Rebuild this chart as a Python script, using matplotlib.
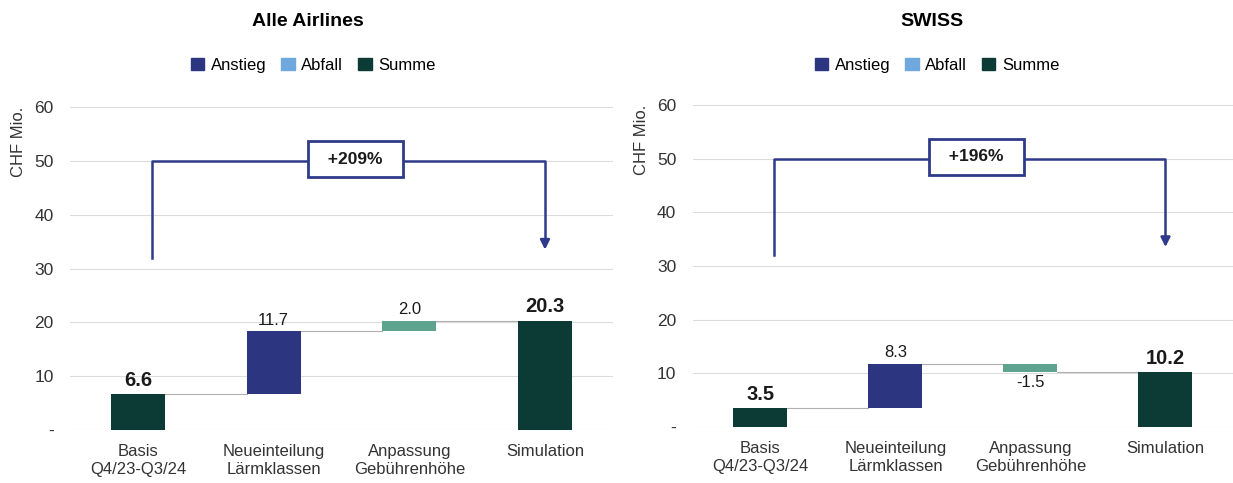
import matplotlib.pyplot as plt
from matplotlib.patches import Patch

plt.rcParams['font.family'] = ['Liberation Sans', 'DejaVu Sans']

# Data
categories = ['Basis\nQ4/23-Q3/24', 'Neueinteilung\nLärmklassen', 'Anpassung\nGebührenhöhe', 'Simulation']
titles = ['Alle Airlines', 'SWISS']
steps_all = [6.6, 11.7, 2.0, 20.3]
steps_swiss = [3.5, 8.3, -1.5, 10.2]
growth_labels = ['+209%', '+196%']
yticks = [0, 10, 20, 30, 40, 50, 60]
ytick_labels = ['-', '10', '20', '30', '40', '50', '60']
legend_labels = ['Anstieg', 'Abfall', 'Summe']

c_up = '#2c3580'
c_down = '#6fa8dc'
c_sum = '#0c3a34'
c_adj = '#5ea38e'
c_arrow = '#2f3a8a'


def waterfall(ax, steps, growth):
    base = steps[0]
    running = base
    bottoms = [0]
    heights = [base]
    colors = [c_sum]
    tops = [base]
    # middle steps
    for i, v in enumerate(steps[1:-1]):
        if i == 0:
            col = c_up if v >= 0 else c_down
        else:
            col = c_adj
        bottoms.append(running if v >= 0 else running + v)
        heights.append(abs(v))
        colors.append(col)
        running += v
        tops.append(running)
    bottoms.append(0)
    heights.append(steps[-1])
    colors.append(c_sum)
    tops.append(steps[-1])

    x = list(range(len(steps)))
    w = 0.4
    ax.bar(x, heights, bottom=bottoms, width=w, color=colors, zorder=3)

    # connectors
    for i in range(len(steps) - 1):
        ax.plot([x[i] + w / 2, x[i + 1] - w / 2], [tops[i], tops[i]],
                color='#b0b0b0', lw=0.8, zorder=2)

    # value labels
    for i, v in enumerate(steps):
        if i == 0 or i == len(steps) - 1:
            ax.text(x[i], heights[i] + 0.8, f'{v:.1f}', ha='center', va='bottom',
                    fontsize=14.5, fontweight='bold', color='#1a1a1a')
        elif v >= 0:
            ax.text(x[i], bottoms[i] + heights[i] + 0.6, f'{v:.1f}', ha='center',
                    va='bottom', fontsize=12, color='#1a1a1a')
        else:
            ax.text(x[i], bottoms[i] - 0.6, f'{v:.1f}', ha='center',
                    va='top', fontsize=12, color='#1a1a1a')

    # growth bracket
    x0, x1 = 0.1, 3.0
    ax.plot([x0, x0, x1, x1], [32, 50, 50, 34.5], color=c_arrow, lw=1.8, zorder=4)
    ax.annotate('', xy=(x1, 33), xytext=(x1, 35.5),
                arrowprops=dict(arrowstyle='-|>', color=c_arrow, lw=1.8,
                                mutation_scale=14), zorder=4)
    ax.text(1.6, 50.3, '  ' + growth + '  ', ha='center', va='center', fontsize=12.5,
            fontweight='bold', color='#1a1a1a', zorder=5,
            bbox=dict(boxstyle='square,pad=0.6', fc='white', ec=c_arrow, lw=2))

    ax.set_ylim(0, 60)
    ax.set_xlim(-0.5, 3.5)
    ax.set_yticks(yticks)
    ax.set_yticklabels(ytick_labels)
    ax.set_xticks(x)
    ax.set_xticklabels(categories, fontsize=12, color='#333333', linespacing=1.3)
    ax.tick_params(axis='y', labelsize=12.5, colors='#333333', length=0, pad=12)
    ax.tick_params(axis='x', length=0, pad=10)
    ax.grid(axis='y', color='#dcdcdc', lw=0.8, zorder=0)
    for s in ax.spines.values():
        s.set_visible(False)
    ax.set_ylabel('CHF Mio.', loc='top', fontsize=12, color='#333333', labelpad=6)


fig = plt.figure(figsize=(12.33, 4.83), dpi=100)
ax1 = fig.add_axes([0.057, 0.11, 0.44, 0.668])
ax2 = fig.add_axes([0.562, 0.116, 0.438, 0.667])

waterfall(ax1, steps_all, growth_labels[0])
waterfall(ax2, steps_swiss, growth_labels[1])

handles = [Patch(color=c_up), Patch(color=c_down), Patch(color=c_sum)]
for ax, title, cx in [(ax1, titles[0], 0.25), (ax2, titles[1], 0.756)]:
    fig.text(cx, 0.955, title, ha='center', va='center', fontsize=14, fontweight='bold')
    fig.legend(handles, legend_labels, loc='center', bbox_to_anchor=(cx + 0.004, 0.865),
               ncol=3, frameon=False, fontsize=12, handlelength=0.8, handleheight=0.8,
               handletextpad=0.4, columnspacing=0.9)

fig.savefig('out.png', dpi=100)
